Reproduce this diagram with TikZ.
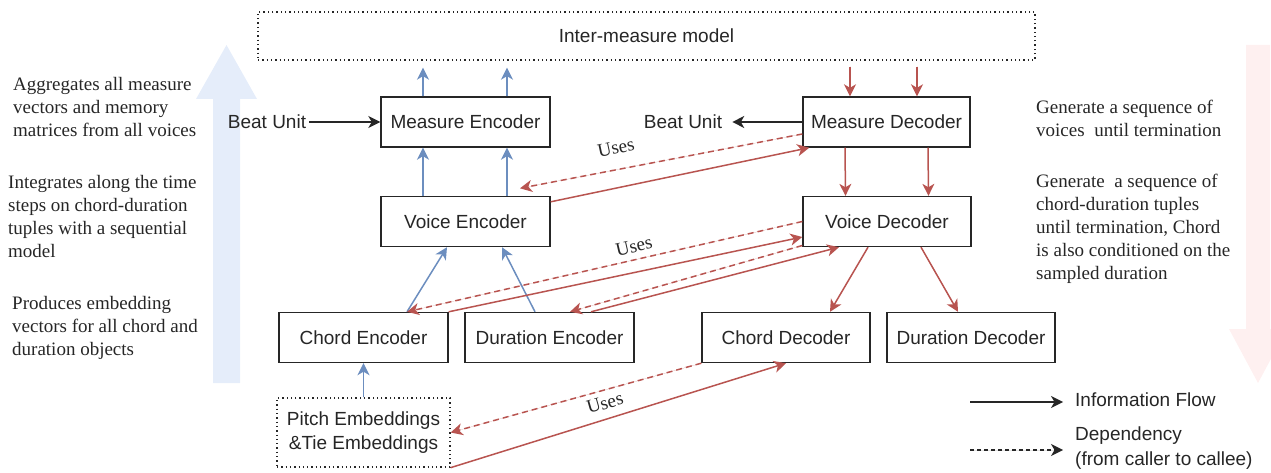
\documentclass[tikz,border=0pt]{standalone}
\usepackage{fontspec}
\setmainfont{Liberation Serif}
\setsansfont{Liberation Sans}
\usetikzlibrary{arrows.meta}

\definecolor{ink}{HTML}{262626}
\definecolor{flowblue}{HTML}{6C8EBF}
\definecolor{flowred}{HTML}{B85450}
\definecolor{upfill}{RGB}{229,237,250}
\definecolor{downfill}{RGB}{254,240,240}

\tikzset{
  block/.style={draw=ink, line width=1.4pt, fill=white, minimum height=50pt,
    inner sep=0pt, font=\sffamily\fontsize{19}{23}\selectfont, text=ink},
  dotbox/.style={draw=ink, line width=1.3pt, dash pattern=on 1.3pt off 3pt,
    inner sep=0pt, align=center, font=\sffamily\fontsize{19}{24}\selectfont, text=ink},
  arrowtip/.style={-{Stealth[length=12pt,width=12pt,inset=3.5pt]}},
  blackflow/.style={arrowtip, draw=ink, fill=ink, line width=1.4pt},
  blueflow/.style={arrowtip, draw=flowblue, fill=flowblue, line width=1.5pt},
  redflow/.style={arrowtip, draw=flowred, fill=flowred, line width=1.5pt},
  reddep/.style={redflow, dash pattern=on 6pt off 4pt},
  blackdep/.style={blackflow, dash pattern=on 4pt off 3pt},
  note/.style={font=\rmfamily\fontsize{19}{23}\selectfont, text=ink, align=left,
    anchor=west, inner sep=0pt},
  usestext/.style={font=\rmfamily\fontsize{19}{23}\selectfont, text=ink, inner sep=0pt},
  plaintext/.style={font=\sffamily\fontsize{19}{23}\selectfont, text=ink, inner sep=2pt},
}

\begin{document}
\begin{tikzpicture}[x=1pt, y=-1pt]
  \useasboundingbox (0,0) rectangle (1271,473);

  % wide background arrows: encoding goes up, decoding goes down
  \fill[upfill] (213,383) -- (213,99) -- (196,99) -- (226.5,45) -- (257,99)
    -- (240,99) -- (240,383) -- cycle;
  \fill[downfill] (1246,45) -- (1246,329) -- (1229,329) -- (1258,383)
    -- (1287,329) -- (1270,329) -- (1270,45) -- cycle;

  % side notes
  \node[note] (noteA) at (13,107.5) {Aggregates all measure\\vectors and memory\\matrices from all voices};
  \node[note] (noteB) at (8,216.5) {Integrates along the time\\steps on chord-duration\\tuples with a sequential\\model};
  \node[note] (noteC) at (12,327.5) {Produces embedding\\vectors for all chord and\\duration objects};
  \node[note] (noteD) at (1036,118.5) {Generate a sequence of\\voices~ until termination};
  \node[note] (noteE) at (1036,228.5) {Generate~ a sequence of\\chord-duration tuples\\until termination, Chord\\is also conditioned on the\\sampled duration};

  % blocks
  \node[dotbox, minimum width=777pt, minimum height=48pt] (inter) at (646.5,36) {Inter-measure model};
  \node[block, minimum width=169pt] (me) at (465.5,122) {Measure Encoder};
  \node[block, minimum width=167pt] (md) at (886.5,122) {Measure Decoder};
  \node[block, minimum width=169pt] (ve) at (465.5,221.5) {Voice Encoder};
  \node[block, minimum width=168pt] (vd) at (887,221.5) {Voice Decoder};
  \node[block, minimum width=169pt] (ce) at (363.5,337.5) {Chord Encoder};
  \node[block, minimum width=169pt] (de) at (549.5,337.5) {Duration Encoder};
  \node[block, minimum width=168pt] (cd) at (786,337.5) {Chord Decoder};
  \node[block, minimum width=168pt] (dd) at (971,337.5) {Duration Decoder};
  \node[dotbox, minimum width=173pt, minimum height=69pt] (pe) at (363.5,432.5) {Pitch Embeddings\\\&Tie Embeddings};

  \node[plaintext] (bul) at (267,122) {Beat Unit};
  \node[plaintext] (bur) at (683,122) {Beat Unit};

  % information flow, encoder side
  \draw[blueflow, shorten >=7pt] ([xshift=-42.5pt]me.north) -- ([xshift=-42.5pt]me.north |- inter.south);
  \draw[blueflow, shorten >=7pt] ([xshift=41.5pt]me.north) -- ([xshift=41.5pt]me.north |- inter.south);
  \draw[blueflow] ([xshift=-42.5pt]ve.north) -- ([xshift=-42.5pt]me.south);
  \draw[blueflow] ([xshift=41.5pt]ve.north) -- ([xshift=41.5pt]me.south);
  \draw[blueflow] ([xshift=43.5pt]ce.north) -- ([xshift=-18.5pt]ve.south);
  \draw[blueflow] ([xshift=-14.5pt]de.north) -- ([xshift=36.5pt]ve.south);
  \draw[blueflow] (pe.north) -- (ce.south);
  \draw[blackflow, shorten <=1pt] (bul.east) -- (me.west);

  % information flow, decoder side
  \draw[redflow, shorten <=6pt] ([xshift=-36.5pt]md.north |- inter.south) -- ([xshift=-36.5pt]md.north);
  \draw[redflow, shorten <=6pt] ([xshift=30.5pt]md.north |- inter.south) -- ([xshift=30.5pt]md.north);
  \draw[redflow] ([xshift=-41.5pt]md.south) -- ([xshift=-41.5pt]vd.north);
  \draw[redflow] ([xshift=41.5pt]md.south) -- ([xshift=41.5pt]vd.north);
  \draw[redflow] ([xshift=-19pt]vd.south) -- ([xshift=44pt]cd.north);
  \draw[redflow] ([xshift=34pt]vd.south) -- ([xshift=-13pt]dd.north);
  \draw[blackflow, shorten >=8pt] (md.west) -- (bur.east);

  % decoders use the matching encoders
  \draw[reddep] ([yshift=-12pt]md.west) -- ([xshift=54.5pt,yshift=7.5pt]ve.north);
  \draw[redflow] ([yshift=-6pt]ve.north east) -- ([xshift=7pt]md.south west);
  \node[usestext, rotate=12] (uses1) at (616,148) {Uses};

  \draw[reddep] (vd.west) -- ([xshift=43.5pt]ce.north);
  \draw[redflow] (ce.north east) -- ([yshift=-15.5pt]vd.west);
  \draw[reddep] ([yshift=-24pt]vd.west) -- ([xshift=20.5pt]de.north);
  \draw[redflow] ([xshift=41.5pt]de.north) -- ([xshift=-48pt]vd.south);
  \node[usestext, rotate=13] (uses2) at (634,246) {Uses};

  \draw[reddep] (cd.south west) -- (pe.east);
  \draw[redflow] (pe.south east) -- (cd.south);
  \node[usestext, rotate=16] (uses3) at (605,403) {Uses};

  % legend
  \coordinate (flowA) at (970,402);
  \coordinate (flowB) at (1063,402);
  \coordinate (depA) at (970,450);
  \coordinate (depB) at (1063,450);
  \draw[blackflow] (flowA) -- (flowB);
  \draw[blackdep] (depA) -- (depB);
  \node[plaintext, anchor=west, inner sep=0pt] (flowtxt) at (1075,400) {Information Flow};
  \node[plaintext, anchor=west, inner sep=0pt, align=left, font=\sffamily\fontsize{19}{25}\selectfont] (deptxt) at (1075,448.5) {Dependency\\(from caller to callee)};
\end{tikzpicture}
\end{document}
